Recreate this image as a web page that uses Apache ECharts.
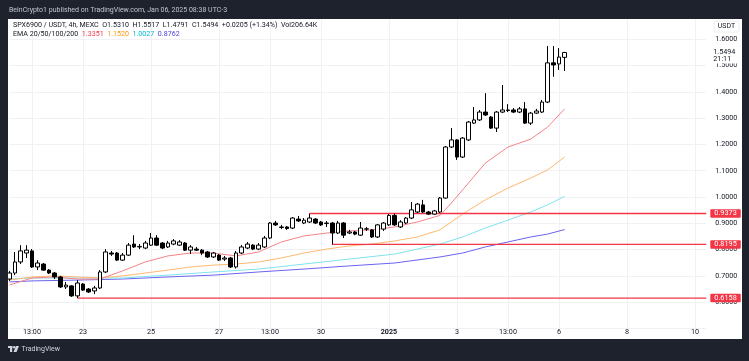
<!DOCTYPE html>
<html><head><meta charset="utf-8">
<script src="https://cdn.jsdelivr.net/npm/echarts@6/dist/echarts.min.js"></script>
<style>html,body{margin:0;padding:0;background:#1e222d}#c{width:749px;height:361px}</style>
</head><body><div id="c"></div>
<script>
// ---- data ----
const slotStart = -4;   // first 4h slot shown (0 = Dec 21 13:00, UTC-3)
const slotEnd = 119;    // last (empty) slot on the time scale
const tickSlots = [0, 9, 21, 33, 42, 51, 63, 75, 84, 93, 105, 117];
const tickLabels = ['13:00', '23', '25', '27', '13:00', '30', '2025', '3', '13:00', '6', '8', '10'];
const priceTicks = [0.6, 0.7, 0.8, 0.9, 1.0, 1.1, 1.2, 1.3, 1.4, 1.5, 1.6];

// [open, close, low, high] from slot -4 to slot 94
const candles = [
[0.688,0.711,0.681,0.719],[0.711,0.753,0.703,0.791],[0.753,0.795,0.745,0.817],[0.787,0.798,0.768,0.817],
[0.795,0.734,0.730,0.802],[0.734,0.749,0.722,0.760],[0.745,0.722,0.719,0.749],[0.722,0.711,0.707,0.726],
[0.711,0.696,0.688,0.715],[0.696,0.658,0.654,0.700],[0.658,0.665,0.650,0.677],[0.662,0.624,0.620,0.665],
[0.624,0.673,0.6158,0.684],[0.669,0.646,0.643,0.673],[0.650,0.639,0.635,0.654],[0.643,0.654,0.631,0.662],
[0.654,0.715,0.650,0.722],[0.715,0.791,0.711,0.802],[0.787,0.783,0.776,0.795],[0.787,0.760,0.757,0.791],
[0.760,0.779,0.757,0.787],[0.779,0.817,0.776,0.825],[0.821,0.810,0.806,0.855],[0.810,0.812,0.802,0.821],
[0.806,0.825,0.802,0.833],[0.817,0.844,0.814,0.863],[0.844,0.817,0.814,0.855],[0.825,0.806,0.802,0.829],
[0.810,0.825,0.806,0.833],[0.821,0.833,0.817,0.840],[0.817,0.829,0.814,0.836],[0.825,0.798,0.795,0.829],
[0.798,0.810,0.783,0.817],[0.802,0.798,0.795,0.810],[0.798,0.787,0.779,0.802],[0.791,0.772,0.768,0.795],
[0.772,0.787,0.768,0.791],[0.779,0.760,0.757,0.783],[0.764,0.768,0.757,0.776],[0.768,0.734,0.730,0.772],
[0.734,0.787,0.728,0.795],[0.787,0.810,0.783,0.817],[0.806,0.821,0.802,0.829],[0.817,0.802,0.798,0.821],
[0.802,0.817,0.798,0.825],[0.810,0.844,0.806,0.852],[0.844,0.901,0.840,0.905],[0.901,0.894,0.890,0.909],
[0.886,0.884,0.878,0.894],[0.886,0.880,0.875,0.890],[0.882,0.920,0.878,0.924],[0.916,0.909,0.905,0.928],
[0.901,0.912,0.897,0.920],[0.905,0.920,0.901,0.9373],[0.916,0.901,0.897,0.920],[0.905,0.894,0.890,0.909],
[0.899,0.901,0.886,0.909],[0.901,0.863,0.8195,0.905],[0.863,0.901,0.859,0.909],[0.901,0.855,0.844,0.905],
[0.863,0.867,0.859,0.875],[0.867,0.859,0.855,0.871],[0.855,0.882,0.852,0.905],[0.878,0.879,0.871,0.886],
[0.875,0.848,0.844,0.878],[0.848,0.894,0.844,0.897],[0.878,0.901,0.871,0.905],[0.894,0.930,0.890,0.935],
[0.930,0.894,0.890,0.937],[0.886,0.905,0.882,0.912],[0.901,0.920,0.897,0.924],[0.920,0.951,0.916,0.981],
[0.943,0.973,0.939,0.977],[0.970,0.943,0.939,0.989],[0.943,0.935,0.932,0.947],[0.935,0.947,0.932,0.951],
[0.943,0.996,0.939,1.000],[0.996,1.190,0.993,1.194],[1.190,1.217,1.186,1.262],[1.217,1.152,1.141,1.220],
[1.152,1.224,1.148,1.228],[1.217,1.285,1.213,1.289],[1.281,1.293,1.278,1.342],[1.293,1.323,1.289,1.331],
[1.323,1.312,1.308,1.395],[1.304,1.262,1.259,1.308],[1.262,1.323,1.247,1.327],[1.323,1.331,1.319,1.426],
[1.331,1.329,1.323,1.353],[1.331,1.323,1.319,1.338],[1.323,1.335,1.319,1.342],[1.335,1.281,1.278,1.361],
[1.281,1.319,1.274,1.323],[1.319,1.327,1.316,1.335],[1.323,1.361,1.319,1.369],[1.361,1.510,1.357,1.574],
[1.510,1.502,1.457,1.574],[1.506,1.532,1.483,1.566],[1.5310,1.5494,1.4791,1.5517]
];

const ema20Slots = [-4,0,4,8,12,16,20,24,28,32,36,40,44,48,52,56,60,64,68,72,74,76,80,84,88,91,94];
const ema20Vals  = [.665,.692,.696,.688,.688,.719,.753,.776,.787,.787,.776,.791,.829,.852,.863,.871,.875,.886,.905,.930,.977,1.027,1.129,1.190,1.220,1.266,1.3351];
const ema50Slots = [-4,0,4,8,12,16,20,24,28,32,36,40,44,48,52,56,60,64,68,72,76,80,84,88,91,94];
const ema50Vals  = [.684,.696,.700,.696,.692,.700,.711,.722,.734,.741,.745,.753,.768,.787,.802,.814,.821,.833,.848,.875,.935,.989,1.034,1.072,1.103,1.1520];
const ema100Slots = [-4,0,8,16,24,32,40,48,56,64,72,76,80,84,88,91,94];
const ema100Vals  = [.688,.692,.692,.692,.703,.715,.726,.745,.764,.783,.821,.848,.882,.912,.943,.970,1.0027];
const ema200Slots = [-4,0,8,16,24,32,40,48,56,64,72,76,80,84,88,91,94];
const ema200Vals  = [.677,.681,.684,.688,.696,.703,.715,.726,.738,.749,.772,.787,.810,.829,.848,.859,.8762];
const emaLegend = ['1.3351', '1.1520', '1.0027', '0.8762'];

const rayStartSlots = [49, 53, 8];
const rayValues = [0.9373, 0.8195, 0.6158];
const lastSlot = 94;
const lastPrice = 1.5494;
const countdown = '21:11';

// ---- build ----
const categories = [];
const t0 = Date.UTC(2024, 11, 20, 21);
for (let s = slotStart; s <= slotEnd; s++) {
  const d = new Date(t0 + (s - slotStart) * 4 * 3600e3);
  categories.push((d.getUTCMonth()+1) + '-' + d.getUTCDate() + ' ' + String(d.getUTCHours()).padStart(2,'0') + ':00');
}
const ix = s => s - slotStart;
const tickMap = {};
tickSlots.forEach((s, i) => tickMap[ix(s)] = tickLabels[i]);
const isTick = i => tickMap[i] !== undefined;
const pair = (slots, vals) => slots.map((s, i) => [ix(s), vals[i]]);

const FONT = 'Roboto, "Liberation Sans", sans-serif';
const emaColors = ['#f7838a', '#ffb870', '#7fe3ee', '#6c63f0'];

const series = [{
  type: 'candlestick',
  data: candles,
  barWidth: 4,
  z: 5,
  itemStyle: { color: '#ffffff', color0: '#000000', borderColor: '#000000', borderColor0: '#000000', borderWidth: 1 }
}];
[[ema200Slots, ema200Vals], [ema100Slots, ema100Vals], [ema50Slots, ema50Vals], [ema20Slots, ema20Vals]].forEach((p, i) => {
  series.push({
    type: 'line', data: pair(p[0], p[1]), showSymbol: false, silent: true, z: 3,
    lineStyle: { width: 1, color: emaColors[3 - i] }
  });
});
rayValues.forEach((v, i) => {
  series.push({
    type: 'line', data: [[ix(rayStartSlots[i]), v], [ix(slotEnd), v]],
    showSymbol: false, silent: true, z: 4,
    lineStyle: { width: 1.3, color: '#f23645' },
    endLabel: {
      show: true, distance: 4, formatter: () => v.toFixed(4),
      backgroundColor: '#f23645', color: '#ffffff', fontSize: 7.3, fontFamily: FONT,
      padding: [1, 4, 0, 4], lineHeight: 7.5, borderRadius: 1
    }
  });
});
// last-price tag on the price scale (invisible line, label only)
series.push({
  type: 'line', data: [[ix(lastSlot), lastPrice], [ix(slotEnd), lastPrice]],
  showSymbol: false, silent: true, z: 6,
  lineStyle: { opacity: 0 },
  endLabel: {
    show: true, distance: 3,
    formatter: () => '{a|' + lastPrice.toFixed(4) + '}\n{b|' + countdown + '}',
    backgroundColor: '#ffffff', padding: [7, 4, 1, 4],
    rich: {
      a: { fontSize: 7.2, color: '#131722', fontFamily: FONT, lineHeight: 7 },
      b: { fontSize: 7.2, color: '#131722', fontFamily: FONT, lineHeight: 7 }
    }
  }
});

const frame = '#1e222d';
const option = {
  animation: false,
  backgroundColor: '#ffffff',
  grid: { left: 9.33, right: 42.7, top: 12.9, bottom: 32.5 },
  xAxis: {
    type: 'category', data: categories, boundaryGap: false,
    axisLine: { show: false }, axisTick: { show: false },
    splitLine: { show: true, interval: i => isTick(i), lineStyle: { color: '#f0f1f4', width: 1 } },
    axisLabel: {
      interval: i => isTick(i), margin: 0,
      formatter: (v, i) => tickMap[i] === '2025' ? '{b|2025}' : (tickMap[i] || ''),
      fontSize: 7.2, color: '#131722', fontFamily: FONT,
      rich: { b: { fontSize: 7.2, fontWeight: 'bold', color: '#131722', fontFamily: FONT } }
    }
  },
  yAxis: {
    type: 'value', position: 'right', min: 0.5, max: 1.7, interval: 0.1,
    axisLine: { show: false }, axisTick: { show: false },
    splitLine: { show: true, lineStyle: { color: '#f0f1f4', width: 1 } },
    axisLabel: {
      margin: 9, fontSize: 7.2, color: '#131722', fontFamily: FONT,
      formatter: v => priceTicks.some(p => Math.abs(p - v) < 1e-6) ? v.toFixed(4) : ''
    }
  },
  series: series,
  graphic: { elements: [
    { type: 'rect', z: 100, shape: { x: 0, y: 0, width: 749, height: 19 }, style: { fill: frame } },
    { type: 'rect', z: 100, shape: { x: 0, y: 0, width: 8, height: 361 }, style: { fill: frame } },
    { type: 'rect', z: 100, shape: { x: 742, y: 0, width: 7, height: 361 }, style: { fill: frame } },
    { type: 'rect', z: 100, shape: { x: 0, y: 339, width: 749, height: 22 }, style: { fill: frame } },
    { type: 'text', z: 101, x: 9, y: 10, style: { text: 'BeinCrypto1 published on TradingView.com, Jan 06, 2025 08:38 UTC-3', fill: '#c3c6ce', fontSize: 7, fontFamily: FONT, verticalAlign: 'middle' } },
    { type: 'text', z: 101, x: 13, y: 25.5, style: { text: 'SPX6900 / USDT, 4h, MEXC  O1.5310  H1.5517  L1.4791  C1.5494  +0.0205 (+1.34%)  Vol206.64K', fill: '#131722', fontSize: 7.1, fontFamily: FONT, verticalAlign: 'middle' } },
    { type: 'text', z: 101, x: 13, y: 34.5, style: {
      text: '{d|EMA 20/50/100/200}  {r|' + emaLegend[0] + '}  {o|' + emaLegend[1] + '}  {c|' + emaLegend[2] + '}  {p|' + emaLegend[3] + '}',
      fontSize: 7.1, fontFamily: FONT, verticalAlign: 'middle',
      rich: {
        d: { fill: '#131722', fontSize: 7.1, fontFamily: FONT },
        r: { fill: '#f23645', fontSize: 7.1, fontFamily: FONT },
        o: { fill: '#ff9800', fontSize: 7.1, fontFamily: FONT },
        c: { fill: '#00bcd4', fontSize: 7.1, fontFamily: FONT },
        p: { fill: '#4a3fe0', fontSize: 7.1, fontFamily: FONT }
      } } },
    { type: 'rect', z: 101, shape: { x: 714, y: 21, width: 25, height: 11, r: 2 }, style: { fill: '#ffffff', stroke: '#e6e7ea', lineWidth: 0.8 } },
    { type: 'text', z: 102, x: 726.5, y: 26.5, style: { text: 'USDT', fill: '#131722', fontSize: 7, fontFamily: FONT, align: 'center', verticalAlign: 'middle' } },
    { type: 'rect', z: 101, shape: { x: 8, y: 346, width: 4.5, height: 2 }, style: { fill: '#d1d4dc' } },
    { type: 'rect', z: 101, shape: { x: 10, y: 346, width: 2.2, height: 6 }, style: { fill: '#d1d4dc' } },
    { type: 'circle', z: 101, shape: { cx: 14.2, cy: 347.2, r: 1.2 }, style: { fill: '#d1d4dc' } },
    { type: 'polygon', z: 101, shape: { points: [[16, 346], [19, 346], [16.5, 352], [13.5, 352]] }, style: { fill: '#d1d4dc' } },
    { type: 'text', z: 101, x: 21.5, y: 349, style: { text: 'TradingView', fill: '#d1d4dc', fontSize: 7, fontFamily: FONT, verticalAlign: 'middle' } }
  ] }
};
const chart = echarts.init(document.getElementById('c'), null, { renderer: 'canvas' });
chart.setOption(option);
</script>
</body></html>
